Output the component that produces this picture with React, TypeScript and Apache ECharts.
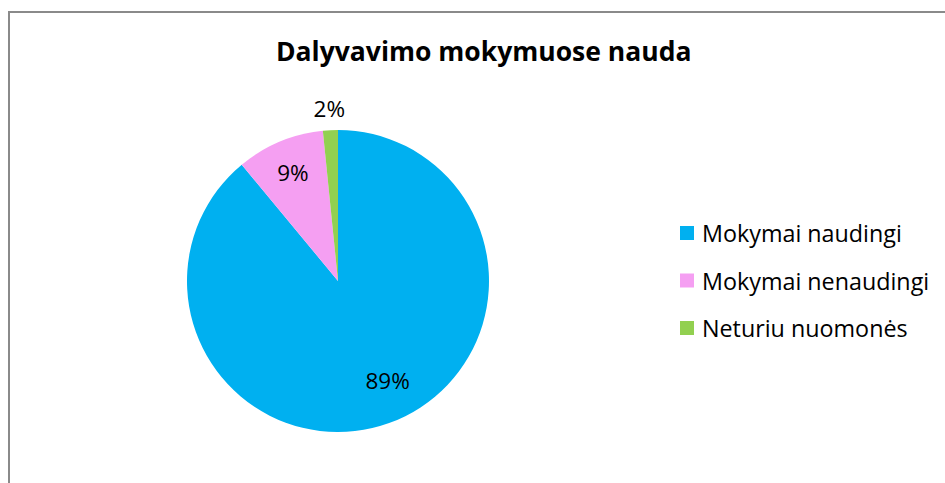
import { useEffect, useRef } from "react";
import * as echarts from "echarts";

const chartTitle = "Dalyvavimo mokymuose nauda";
const categories = ["Mokymai naudingi", "Mokymai nenaudingi", "Neturiu nuomonės"];
const values = [89.0, 9.4, 1.6];
const colors = ["#00B0F0", "#F59FF2", "#92D050"];

const FONT = "'Open Sans', 'Noto Sans', sans-serif";

export default function App() {
  const ref = useRef<HTMLDivElement>(null);
  useEffect(() => {
    if (!ref.current) return;
    const chart = echarts.init(ref.current, null, { renderer: "svg" });
    const center = [338, 281];
    const R = 151;
    const base = categories.map((name, i) => ({
      name,
      value: values[i],
      itemStyle: { color: colors[i] },
    }));
    const labelOffsets = [[10, -11], [0, -1], [0, 1]];
    const labelData = (show: boolean[]) =>
      categories.map((name, i) => ({
        name,
        value: values[i],
        label: { show: show[i], offset: labelOffsets[i] },
      }));
    const labelSeries = (radius: number, show: boolean[]) => ({
      type: "pie",
      center,
      radius: [0, radius],
      startAngle: 90,
      clockwise: true,
      silent: true,
      percentPrecision: 0,
      itemStyle: { color: "rgba(0,0,0,0)", borderWidth: 0 },
      emphasis: { disabled: true },
      labelLine: { show: false },
      label: {
        position: "inside",
        formatter: "{d}%",
        color: "#000",
        fontFamily: FONT,
        fontSize: 22.5,
      },
      data: labelData(show),
    });
    chart.setOption({
      animation: false,
      backgroundColor: "#fff",
      title: {
        text: chartTitle,
        left: 276,
        top: 33,
        padding: 0,
        textStyle: {
          fontFamily: FONT,
          fontWeight: "bold",
          fontSize: 26.5,
          color: "#000",
          lineHeight: 36,
        },
      },
      legend: {
        orient: "vertical",
        left: 680,
        top: 220,
        padding: 0,
        icon: "rect",
        itemWidth: 14,
        itemHeight: 14,
        itemGap: 21.5,
        data: categories,
        selectedMode: false,
        textStyle: {
          fontFamily: FONT,
          fontSize: 23.3,
          color: "#000",
          lineHeight: 26,
          padding: [0, 0, 0, 3],
        },
      },
      graphic: [
        {
          type: "polyline",
          silent: true,
          shape: { points: [[9, 483], [9, 12], [945, 12]] },
          style: { stroke: "#8a8a8a", lineWidth: 2, fill: "none" },
        },
      ],
      series: [
        {
          type: "pie",
          center,
          radius: [0, R],
          startAngle: 90,
          clockwise: true,
          label: { show: false },
          labelLine: { show: false },
          emphasis: { disabled: true },
          data: base,
        },
        labelSeries(228, [true, true, false]),
        labelSeries(342, [false, false, true]),
      ],
    });
    return () => chart.dispose();
  }, []);
  return (
    <div
      ref={ref}
      style={{ position: "absolute", left: 0, top: 0, width: 945, height: 483 }}
    />
  );
}
